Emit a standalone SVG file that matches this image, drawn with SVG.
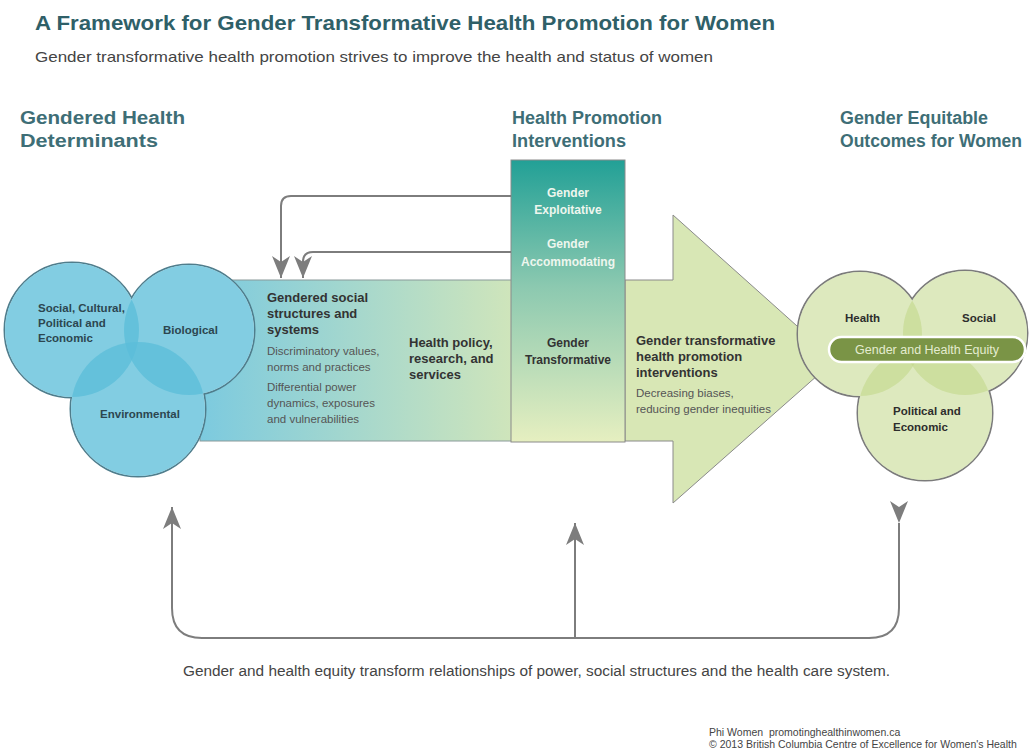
<svg xmlns="http://www.w3.org/2000/svg" width="1029" height="751" viewBox="0 0 1029 751">
<style>
  text { font-family: "Liberation Sans", Arial, sans-serif; }
  .title { font-size: 21px; font-weight: bold; fill: #2f6068; }
  .sub { font-size: 14.5px; fill: #444; }
  .hdr { font-size: 18px; font-weight: bold; fill: #3e6e76; }
  .lc { font-size: 11.5px; font-weight: bold; fill: #2c4650; }
  .bb { font-size: 13px; font-weight: bold; fill: #333; }
  .bt { font-size: 11.5px; fill: #555; }
  .wc { font-size: 12px; font-weight: bold; fill: #eef6ee; text-anchor: middle; }
  .dc { font-size: 12px; font-weight: bold; fill: #333; text-anchor: middle; }
  .rc { font-size: 11.5px; font-weight: bold; fill: #2d2d2d; }
  .cap { font-size: 14px; fill: #444; }
  .foot { font-size: 10.5px; fill: #444; white-space: pre; }
  .lout { fill: #fff; stroke: #4f7d8c; stroke-width: 3; }
  .rout { fill: #fff; stroke: #7b7b7b; stroke-width: 3; }
  .under { fill: #fff; }
  .lcirc { fill: #5bbdd9; fill-opacity: 0.76; }
  .rcirc { fill: #bfd585; fill-opacity: 0.53; }
  .conn { fill: none; stroke: #7d7d7d; stroke-width: 2; }
</style>
<defs>
  <linearGradient id="gBody" x1="0" y1="0" x2="1" y2="0">
    <stop offset="0" stop-color="#7ccadf"/>
    <stop offset="1" stop-color="#cfe5bb"/>
  </linearGradient>
  <linearGradient id="gCol" x1="0" y1="0" x2="0" y2="1">
    <stop offset="0" stop-color="#22a096"/>
    <stop offset="0.45" stop-color="#8cc9b0"/>
    <stop offset="1" stop-color="#e6efc0"/>
  </linearGradient>
  <marker id="ah" viewBox="-23 -10 24 20" refX="0" refY="0" markerWidth="24" markerHeight="20" markerUnits="userSpaceOnUse" orient="auto">
    <path d="M0,0 L-22,-9 L-16,0 L-22,9 Z" fill="#7d7d7d"/>
  </marker>
</defs>
<rect width="1029" height="751" fill="#fff"/>

<text class="title" x="35" y="30" textLength="740" lengthAdjust="spacingAndGlyphs">A Framework for Gender Transformative Health Promotion for Women</text>
<text class="sub" x="35" y="62" textLength="678" lengthAdjust="spacingAndGlyphs">Gender transformative health promotion strives to improve the health and status of women</text>

<g id="headers">
  <text class="hdr" x="20" y="124" textLength="165" lengthAdjust="spacingAndGlyphs">Gendered Health</text>
  <text class="hdr" x="20" y="147" textLength="138" lengthAdjust="spacingAndGlyphs">Determinants</text>
  <text class="hdr" x="512" y="124" textLength="150" lengthAdjust="spacingAndGlyphs">Health Promotion</text>
  <text class="hdr" x="512" y="147" textLength="114" lengthAdjust="spacingAndGlyphs">Interventions</text>
  <text class="hdr" x="840" y="124" textLength="148" lengthAdjust="spacingAndGlyphs">Gender Equitable</text>
  <text class="hdr" x="840" y="147" textLength="182" lengthAdjust="spacingAndGlyphs">Outcomes for Women</text>
</g>

<g id="arrow-body">
  <rect x="200" y="280" width="312" height="161" fill="url(#gBody)" stroke="#8a9a9a" stroke-width="1"/>
  <text class="bb" x="267" y="302">Gendered social</text>
  <text class="bb" x="267" y="318">structures and</text>
  <text class="bb" x="267" y="334">systems</text>
  <text class="bt" x="267" y="355">Discriminatory values,</text>
  <text class="bt" x="267" y="371">norms and practices</text>
  <text class="bt" x="267" y="391">Differential power</text>
  <text class="bt" x="267" y="407">dynamics, exposures</text>
  <text class="bt" x="267" y="423">and vulnerabilities</text>
  <text class="bb" x="409" y="347">Health policy,</text>
  <text class="bb" x="409" y="363">research, and</text>
  <text class="bb" x="409" y="379">services</text>
</g>

<g id="arrow-head">
  <polygon points="625,280 673,280 673,215 835,360 673,503 673,441 625,441" fill="#d8e7b5" stroke="#8a8a8a" stroke-width="1"/>
  <text class="bb" x="636" y="345">Gender transformative</text>
  <text class="bb" x="636" y="361">health promotion</text>
  <text class="bb" x="636" y="377">interventions</text>
  <text class="bt" x="636" y="397">Decreasing biases,</text>
  <text class="bt" x="636" y="413">reducing gender inequities</text>
</g>

<g id="interventions">
  <rect x="511" y="160" width="114" height="282" fill="url(#gCol)" stroke="#8a8a8a" stroke-width="1"/>
  <text class="wc" x="568" y="197">Gender</text>
  <text class="wc" x="568" y="214">Exploitative</text>
  <text class="wc" x="568" y="248">Gender</text>
  <text class="wc" x="568" y="266">Accommodating</text>
  <text class="dc" x="568" y="347">Gender</text>
  <text class="dc" x="568" y="364">Transformative</text>
</g>

<g id="determinants">
  <circle class="lout" cx="72" cy="330" r="67"/>
  <circle class="lout" cx="189" cy="330" r="65"/>
  <circle class="lout" cx="138" cy="409" r="67"/>
  <circle class="under" cx="72" cy="330" r="67"/>
  <circle class="under" cx="189" cy="330" r="65"/>
  <circle class="under" cx="138" cy="409" r="67"/>
  <circle class="lcirc" cx="72" cy="330" r="67"/>
  <circle class="lcirc" cx="189" cy="330" r="65"/>
  <circle class="lcirc" cx="138" cy="409" r="67"/>
  <text class="lc" x="38" y="312">Social, Cultural,</text>
  <text class="lc" x="38" y="327">Political and</text>
  <text class="lc" x="38" y="342">Economic</text>
  <text class="lc" x="163" y="334">Biological</text>
  <text class="lc" x="140" y="418" text-anchor="middle">Environmental</text>
</g>

<g id="outcomes">
  <circle class="rout" cx="860" cy="334" r="62"/>
  <circle class="rout" cx="965" cy="333" r="62"/>
  <circle class="rout" cx="925" cy="413" r="67"/>
  <circle class="under" cx="860" cy="334" r="62"/>
  <circle class="under" cx="965" cy="333" r="62"/>
  <circle class="under" cx="925" cy="413" r="67"/>
  <circle class="rcirc" cx="860" cy="334" r="62"/>
  <circle class="rcirc" cx="965" cy="333" r="62"/>
  <circle class="rcirc" cx="925" cy="413" r="67"/>
  <text class="rc" x="845" y="322">Health</text>
  <text class="rc" x="962" y="322">Social</text>
  <text class="rc" x="893" y="415">Political and</text>
  <text class="rc" x="893" y="431">Economic</text>
  <rect x="829" y="337" width="196" height="25" rx="12.5" fill="#7a9446" stroke="#fff" stroke-width="2.5"/>
  <text x="927" y="354" text-anchor="middle" font-size="12.5" fill="#e4ecd0">Gender and Health Equity</text>
</g>

<g id="connectors">
  <path class="conn" d="M511,196 H291 Q281,196 281,206 V278" marker-end="url(#ah)"/>
  <path class="conn" d="M511,252 H313 Q303,252 303,262 V278" marker-end="url(#ah)"/>
  <path class="conn" d="M899,523 V608 Q899,638 869,638 H202 Q172,638 172,608 V507" marker-start="url(#ah)" marker-end="url(#ah)"/>
  <path class="conn" d="M575,638 V523" marker-end="url(#ah)"/>
</g>

<text class="cap" x="183" y="676" textLength="707" lengthAdjust="spacingAndGlyphs">Gender and health equity transform relationships of power, social structures and the health care system.</text>
<text class="foot" x="709" y="736" xml:space="preserve">Phi Women  promotinghealthinwomen.ca</text>
<text class="foot" x="709" y="748">© 2013 British Columbia Centre of Excellence for Women's Health</text>
</svg>
